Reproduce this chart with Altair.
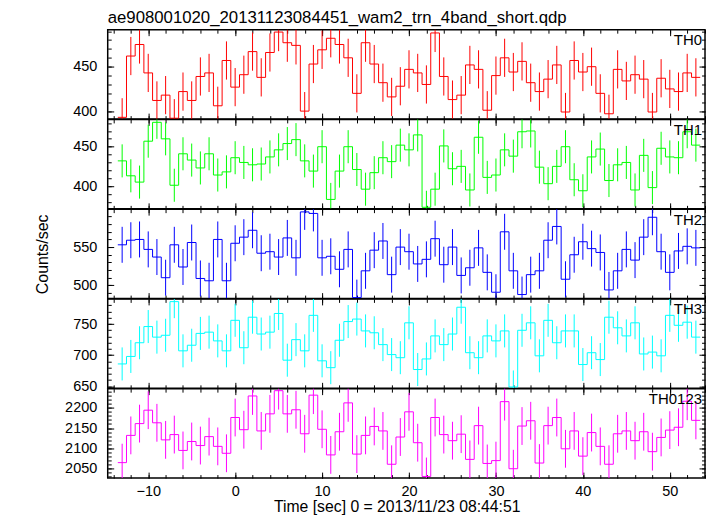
import altair as alt
import pandas as pd

title_text = "ae908001020_20131123084451_wam2_trn_4band_short.qdp"
x_title = "Time [sec] 0 = 2013/11/23 08:44:51"
y_title = "Counts/sec"

# bin centres (s), 1 s bins
times = list(range(-13, 54))

th0 = [393, 462, 475, 443, 412, 418, 392, 422, 412, 439, 443, 406, 457,
       427, 441, 467, 438, 466, 489, 477, 474, 400, 453, 469, 482, 475, 460,
       420, 477, 453, 432, 416, 428, 447, 443, 430, 488, 439, 413, 418, 452,
       447, 401, 440, 460, 444, 456, 432, 422, 436, 452, 399, 457, 444, 450,
       420, 397, 447, 434, 441, 436, 399, 437, 425, 422, 443, 438]
th1 = [432, 413, 405, 457, 481, 460, 401, 441, 433, 423, 441, 414, 418,
       436, 430, 427, 428, 437, 446, 454, 459, 432, 419, 450, 383, 419, 450,
       421, 396, 417, 436, 431, 452, 446, 465, 373, 396, 451, 422, 425, 395,
       462, 411, 414, 446, 438, 469, 470, 424, 403, 425, 450, 408, 394, 437,
       447, 407, 427, 430, 395, 439, 398, 448, 437, 436, 469, 452]
th2 = [553, 559, 560, 547, 537, 510, 553, 524, 556, 509, 506, 560, 506,
       555, 563, 572, 542, 544, 537, 562, 536, 596, 594, 536, 538, 521, 547,
       484, 519, 546, 558, 514, 550, 544, 528, 534, 561, 527, 550, 513, 523,
       549, 517, 491, 570, 519, 488, 514, 519, 559, 577, 508, 540, 557, 548,
       543, 494, 519, 547, 533, 563, 589, 544, 517, 545, 551, 549]
th3 = [686, 698, 720, 746, 729, 732, 786, 707, 716, 735, 737, 723, 707,
       756, 712, 761, 734, 737, 767, 692, 725, 707, 764, 691, 680, 724, 754,
       758, 739, 736, 717, 701, 696, 752, 677, 694, 731, 717, 734, 777, 704,
       696, 731, 723, 739, 649, 740, 752, 699, 756, 720, 739, 739, 685, 704,
       693, 761, 744, 731, 752, 702, 705, 699, 764, 748, 753, 729]
th0123 = [2065, 2132, 2161, 2194, 2163, 2121, 2134, 2095, 2117, 2107, 2129, 2105, 2088,
          2176, 2146, 2229, 2143, 2185, 2242, 2185, 2195, 2136, 2231, 2147, 2084, 2141, 2212,
          2086, 2132, 2154, 2143, 2061, 2128, 2190, 2114, 2031, 2176, 2134, 2119, 2135, 2073,
          2156, 2063, 2070, 2215, 2050, 2155, 2168, 2064, 2156, 2176, 2099, 2143, 2081, 2139,
          2105, 2061, 2136, 2143, 2119, 2141, 2092, 2127, 2145, 2152, 2216, 2169]

series = [th0, th1, th2, th3, th0123]
names = ["TH0", "TH1", "TH2", "TH3", "TH0123"]
colors = ["#ff0000", "#00ff00", "#0000ff", "#00ffff", "#ff00ff"]
errors = [21.5, 21.0, 23.5, 26.5, 46.5]  # typical half-length of error bars

x_domain = [-14.66, 54.05]
x_major = [-10, 0, 10, 20, 30, 40, 50]
x_minor = list(range(-14, 55, 2))

y_domains = [[391, 491.7], [371, 484.7], [482.7, 599.6], [646.8, 790.4], [2027, 2247]]
y_major = [[400, 450], [400, 450], [500, 550], [650, 700, 750], [2050, 2100, 2150, 2200]]
y_minor = [list(range(400, 500, 10)), list(range(380, 490, 10)), list(range(490, 600, 10)),
           list(range(650, 790, 10)), list(range(2030, 2250, 10))]

FONT = "Liberation Sans"
W = 599
H = 89.7
MAJ = 6
MIN = 3.5


def tick_axis(orient, values, size, **extra):
    return alt.Axis(orient=orient, values=values, tickSize=size, offset=-size,
                    domain=False, grid=False, tickColor="black", tickWidth=1,
                    **extra)


def panel(i):
    vals = series[i]
    err = errors[i]
    bottom = i == len(series) - 1
    edges = pd.DataFrame({"t": [t - 0.5 for t in times] + [times[-1] + 0.5],
                          "v": vals + [vals[-1]]})
    bars = pd.DataFrame({"t": times,
                         "lo": [v - err for v in vals],
                         "hi": [v + err for v in vals]})
    xs = alt.Scale(domain=x_domain, nice=False, zero=False)
    ys = alt.Scale(domain=y_domains[i], nice=False, zero=False)

    if bottom:
        xb = tick_axis("bottom", x_major, MAJ, labels=True, labelFont=FONT,
                       labelFontSize=14.5, labelColor="black", labelPadding=6,
                       title=x_title, titleFont=FONT, titleFontSize=15.8,
                       titleFontWeight="normal", titleColor="black",
                       titlePadding=2, titleX=289.8)
    else:
        xb = tick_axis("bottom", x_major, MAJ, labels=False, title=None)

    ykw = dict(labels=True, labelFont=FONT, labelFontSize=14.5, format="d",
               labelColor="black", labelPadding=11)
    if i == 2:
        yl = tick_axis("left", y_major[i], MAJ, title=y_title, titleFont=FONT,
                       titleFontSize=16, titleFontWeight="normal",
                       titleColor="black", titleX=-63, **ykw)
    else:
        yl = tick_axis("left", y_major[i], MAJ, title=None, **ykw)

    errbars = alt.Chart(bars).mark_rule(color=colors[i], strokeWidth=1, clip=True).encode(
        x=alt.X("t:Q", scale=xs, axis=tick_axis("bottom", x_minor, MIN, labels=False, title=None)),
        y=alt.Y("lo:Q", scale=ys, axis=tick_axis("left", y_minor[i], MIN, labels=False, title=None)),
        y2="hi:Q",
    )
    step = alt.Chart(edges).mark_line(color=colors[i], strokeWidth=1,
                                      interpolate="step-after", clip=True).encode(
        x=alt.X("t:Q", scale=xs, axis=xb),
        y=alt.Y("v:Q", scale=ys, axis=yl),
    )
    top_major = alt.Chart(bars).mark_point(opacity=0, clip=True).encode(
        x=alt.X("t:Q", scale=xs, axis=tick_axis("top", x_major, MAJ, labels=False, title=None)),
        y=alt.Y("lo:Q", scale=ys, axis=tick_axis("right", y_major[i], MAJ, labels=False, title=None)),
    )
    top_minor = alt.Chart(bars).mark_point(opacity=0, clip=True).encode(
        x=alt.X("t:Q", scale=xs, axis=tick_axis("top", x_minor, MIN, labels=False, title=None)),
        y=alt.Y("lo:Q", scale=ys, axis=tick_axis("right", y_minor[i], MIN, labels=False, title=None)),
    )
    label = alt.Chart(pd.DataFrame({"label": [names[i]]})).mark_text(
        align="right", baseline="alphabetic", fontSize=15, font=FONT, color="black"
    ).encode(x=alt.value(W - 3), y=alt.value(15.5), text="label:N")

    layers = [errbars, step, top_major, top_minor, label]
    if i == 0:
        head = alt.Chart(pd.DataFrame({"label": [title_text]})).mark_text(
            align="left", baseline="alphabetic", fontSize=16.8, font=FONT, color="black"
        ).encode(x=alt.value(0), y=alt.value(-7), text="label:N")
        layers.append(head)

    return alt.layer(*layers).resolve_axis(x="independent", y="independent").properties(
        width=W, height=H)


chart = alt.vconcat(*[panel(i) for i in range(len(series))], spacing=0, bounds="flush").properties(
    padding={"left": 26, "top": 0, "right": 2, "bottom": 0}
).configure_view(stroke="black", strokeWidth=1.5).configure_axis(grid=False)

chart.save("out.html", embed_options={"renderer": "svg", "actions": False})
